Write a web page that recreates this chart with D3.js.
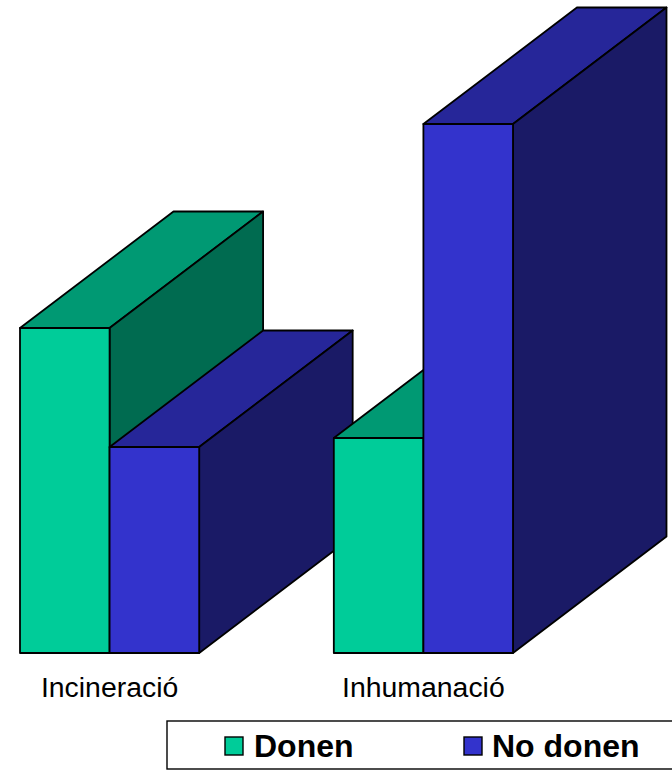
<!DOCTYPE html>
<html><head><meta charset="utf-8">
<script src="https://cdn.jsdelivr.net/npm/d3@7/dist/d3.min.js"></script>
<style>html,body{margin:0;padding:0;background:#fff}svg{display:block}text{font-family:"Liberation Sans",Arial,sans-serif;fill:#000}</style>
</head><body><svg id="c" width="672" height="770"></svg>
<script>
const categories = ["Incineració", "Inhumanació"];
const seriesNames = ["Donen", "No donen"];
const donen = [325, 215];
const noDonen = [206, 529];
const seriesValues = [donen, noDonen];
const colors = [
  {front:"#00CC99", top:"#009973", side:"#006B50"},
  {front:"#3333CC", top:"#262699", side:"#1A1A66"}
];
const depth = {dx:153.5, dy:-116.5};
const svg = d3.select("#c");
const x0 = d3.scaleBand().domain(categories).range([20,513]).paddingInner(134.5/313.5).paddingOuter(0);
const x1 = d3.scaleBand().domain(seriesNames).range([0,x0.bandwidth()]);
const y = d3.scaleLinear().domain([0,529]).range([653,124]);
const stroke = {stroke:"#000","stroke-width":1.8,"stroke-linejoin":"round"};
const poly = (pts,fill)=>{
  const p = svg.append("polygon").attr("points",pts.map(d=>d.join(",")).join(" ")).attr("fill",fill);
  for(const k in stroke) p.attr(k,stroke[k]);
};
categories.forEach((cat,i)=>{
  seriesNames.forEach((s,j)=>{
    const l=x0(cat)+x1(s), r=l+x1.bandwidth(), t=y(seriesValues[j][i]), b=y(0), c=colors[j];
    poly([[l,t],[l+depth.dx,t+depth.dy],[r+depth.dx,t+depth.dy],[r,t]],c.top);
    poly([[r,t],[r+depth.dx,t+depth.dy],[r+depth.dx,b+depth.dy],[r,b]],c.side);
    poly([[l,t],[r,t],[r,b],[l,b]],c.front);
  });
});
svg.selectAll("text.cat").data(categories).join("text").attr("class","cat")
  .attr("x",d=>x0(d)+x0.bandwidth()/2).attr("y",697).attr("text-anchor","middle")
  .attr("font-size",28.4).text(d=>d);
svg.append("rect").attr("x",167).attr("y",721).attr("width",520).attr("height",48)
  .attr("fill","#fff").attr("stroke","#000").attr("stroke-width",1.4);
const legendX = d3.scaleOrdinal().domain(seriesNames).range([225,464]);
seriesNames.forEach((s,j)=>{
  svg.append("rect").attr("x",legendX(s)).attr("y",737).attr("width",18).attr("height",18)
    .attr("fill",colors[j].front).attr("stroke","#000").attr("stroke-width",1.4);
  svg.append("text").attr("x",legendX(s)+29-j).attr("y",757).attr("font-size",32).attr("font-weight","bold").text(s);
});
</script></body></html>
